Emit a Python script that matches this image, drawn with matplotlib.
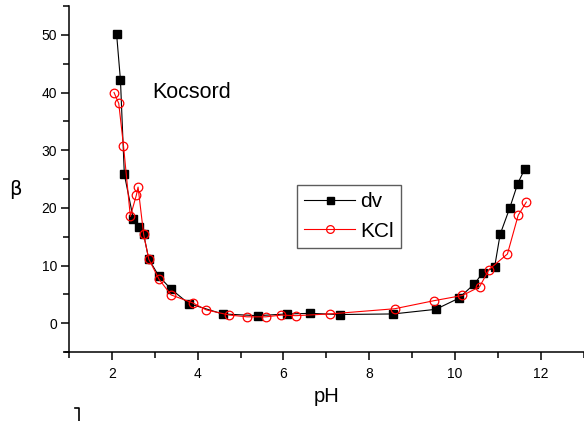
import matplotlib
matplotlib.use("Agg")
import matplotlib.pyplot as plt
from matplotlib.lines import Line2D
from matplotlib.ticker import MultipleLocator

plt.rcParams["font.family"] = ["Liberation Sans", "DejaVu Sans"]

# buffer capacity vs pH
ph_dv = [2.11, 2.20, 2.29, 2.50, 2.63, 2.74, 2.86, 3.10, 3.38, 3.79, 4.58, 5.40,
         6.08, 6.62, 7.31, 8.56, 9.55, 10.08, 10.45, 10.64, 10.92, 11.05, 11.27,
         11.46, 11.62]
beta_dv = [50.1, 42.1, 25.8, 18.1, 16.6, 15.4, 11.1, 8.1, 5.9, 3.4, 1.6, 1.3,
           1.6, 1.7, 1.5, 1.6, 2.4, 4.3, 6.8, 8.7, 9.7, 15.4, 19.9, 24.2, 26.7]

ph_kcl = [2.05, 2.16, 2.27, 2.43, 2.57, 2.61, 2.74, 2.86, 3.10, 3.38, 3.89, 4.20,
          4.74, 5.15, 5.59, 5.95, 6.29, 7.08, 8.59, 9.51, 10.17, 10.57, 10.79,
          11.22, 11.47, 11.66]
beta_kcl = [40.0, 38.1, 30.8, 18.5, 22.2, 23.6, 15.4, 11.1, 7.6, 4.9, 3.5, 2.3,
            1.4, 1.1, 1.1, 1.4, 1.3, 1.6, 2.5, 3.9, 4.8, 6.3, 9.3, 12.0, 18.7, 21.0]

x_ticks = [2, 4, 6, 8, 10, 12]
y_ticks = [0, 10, 20, 30, 40, 50]

W, H = 584, 421
fig = plt.figure(figsize=(W / 100, H / 100), dpi=100)
ax_left, ax_right = 64.7 / W, 583.8 / W
ax_bottom, ax_top = 1 - 352 / H, 1 - 6 / H
ax = fig.add_axes([ax_left, ax_bottom, ax_right - ax_left, ax_top - ax_bottom])

ax.plot(ph_dv, beta_dv, color="black", lw=0.8, marker="s", ms=5.6,
        mfc="black", mec="black", label="dv", zorder=2)
ax.plot(ph_kcl, beta_kcl, color="red", lw=0.8, marker="o", ms=6.2,
        mfc="none", mec="red", mew=0.9, label="KCl", zorder=3)

ax.set_xlim(0.9, 13)
ax.set_ylim(-5, 55)
ax.spines["left"].set_position(("data", 1))
ax.spines["top"].set_visible(False)
ax.spines["right"].set_visible(False)
for s in ("left", "bottom"):
    ax.spines[s].set_linewidth(1.1)

ax.set_xticks(x_ticks)
ax.set_yticks(y_ticks)
ax.xaxis.set_minor_locator(MultipleLocator(1))
ax.yaxis.set_minor_locator(MultipleLocator(5))
ax.tick_params(which="major", direction="out", length=6, width=1.1,
               labelsize=10)
ax.tick_params(which="minor", direction="out", length=4, width=1.1)
ax.tick_params(axis="x", pad=5)
ax.tick_params(axis="y", pad=2.5)

fig.text(327 / W, 1 - 396 / H, "pH", fontsize=14.5, ha="center", va="center")
fig.text(15 / W, 1 - 190 / H, "β", fontsize=14, ha="center", va="center",
         family=["DejaVu Sans"])
fig.text(152 / W, 1 - 92 / H, "Kocsord", fontsize=15.5, ha="left", va="center")

leg = ax.legend(loc="upper left", bbox_to_anchor=(297 / W, 1 - 185 / H),
                bbox_transform=fig.transFigure, borderaxespad=0, fontsize=15,
                frameon=True, fancybox=False, handlelength=2.45,
                handletextpad=0.25, labelspacing=0.5, borderpad=0.35,
                numpoints=1, markerscale=0.9)
leg.get_frame().set_edgecolor("#333333")
leg.get_frame().set_linewidth(1.0)

# small corner mark near the lower left
fig.add_artist(Line2D([75 / W, 79 / W, 79 / W],
                      [1 - 408 / H, 1 - 408 / H, 0], color="black", lw=1.2))

fig.savefig("out.png", dpi=100)
